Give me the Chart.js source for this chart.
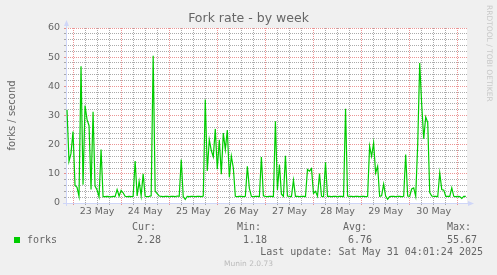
<!DOCTYPE html>
<html>
<head>
<meta charset="utf-8">
<script src="https://cdn.jsdelivr.net/npm/chart.js@4/dist/chart.umd.min.js"></script>
<style>
  html, body { margin: 0; padding: 0; background: #f0f0f0; }
  #wrap { width: 497px; height: 275px; }
</style>
</head>
<body>
<div id="wrap"><canvas id="forks" width="497" height="275"></canvas></div>
<script>
// hourly fork rate, first sample 22 May 21:00, last 31 May 04:00
const forks = [
  32, 14.3, 17,
  // 23 May
  24.5, 6, 5.4, 2.3, 46.9, 6.3, 33.4, 28.6, 26.5, 4.6, 31.3, 5.8,
  4.5, 2.1, 18.3, 2.2, 2.2, 2.3, 2.2, 2.1, 2.3, 2.2, 4.6, 2.4,
  // 24 May
  4.3, 3.5, 2.3, 2.2, 2.3, 2.2, 2.3, 14.4, 2.4, 7.4, 2.5, 10,
  2.3, 2.2, 2.3, 2.5, 50.5, 4, 3.2, 2.4, 2.3, 2.2, 2.3, 2.3,
  // 25 May
  2.2, 2.3, 2.3, 2.2, 2.4, 2.3, 14.9, 2.2, 1.2, 2.3, 2.2, 2.3,
  2.3, 2.2, 2.3, 2.3, 2.2, 2.4, 35.5, 11, 21.7, 18, 15.8, 25.4,
  // 26 May
  11.6, 21.7, 9.9, 24, 18.3, 25, 8.8, 16.1, 12, 2.3, 2.2, 2.3,
  2.3, 2.2, 2.3, 12.6, 5, 2.3, 2.2, 2.3, 2.3, 2.2, 15.8, 2.5,
  // 27 May
  2.3, 2.2, 2.3, 2.3, 2.2, 28, 4.5, 13.2, 3, 2.3, 16.2, 2.4,
  2.3, 2.2, 7.8, 2.3, 2.3, 2.2, 2.3, 2.3, 2.2, 11.5, 10.9, 11.8,
  // 28 May
  3.3, 4, 2.3, 10.1, 2.3, 2.2, 14, 2.3, 2.3, 2.2, 2.3, 2.3,
  2.2, 2.3, 2.3, 2.2, 32.3, 2.4, 2.3, 2.3, 2.2, 2.3, 2.3, 2.2,
  // 29 May
  2.3, 2.3, 2.2, 2.3, 19.5, 16, 20.6, 10.3, 12.6, 2.3, 2.5, 6.5,
  2.4, 1.3, 2.2, 2.3, 2.3, 2.2, 2.3, 2.3, 2.2, 2.3, 16.6, 2.4,
  // 30 May
  2.3, 4.8, 5.2, 2.3, 20, 48, 33.7, 22, 29.5, 27.6, 3.6, 2.4,
  2.3, 2.3, 2.2, 10.3, 4.6, 4.4, 2.3, 2.3, 2.3, 5.2, 2.3, 2.2,
  // 31 May
  2.3, 2.2, 1.6, 2.3, 2.28,
];
const hours = forks.map((_, i) => i - 3); // hours since 23 May 00:00
const dayLabels = ['23 May', '24 May', '25 May', '26 May', '27 May', '28 May', '29 May', '30 May'];
const statNames = ['Cur:', 'Min:', 'Avg:', 'Max:'];
const statValues = ['2.28', '1.18', '6.76', '55.67'];
const lastUpdate = 'Last update: Sat May 31 04:01:24 2025';
const title = 'Fork rate - by week';

// grid every 6 hours / every 2 forks
const xTicks = [];
for (let h = 0; h <= 192; h += 6) xTicks.push(h);
const yTicks = [];
for (let v = 0; v <= 60; v += 2) yTicks.push(v);

// rrdtool / munin colours
const GRID = 'rgba(143,143,143,0.75)';
const MGRID = 'rgba(222,79,79,0.6)';
const AXIS = '#cfd6f8';
const FONT = '#666';
const MONO = '"DejaVu Sans Mono", monospace';

Chart.defaults.font.family = '"DejaVu Sans", sans-serif';
Chart.defaults.color = FONT;

const munin = {
  id: 'munin',
  beforeDraw(chart) {
    const { ctx, chartArea: a } = chart;
    ctx.save();
    ctx.fillStyle = '#fff';
    ctx.fillRect(a.left, a.top, a.right - a.left, a.bottom - a.top);
    ctx.restore();
  },
  beforeDatasetsDraw(chart) {
    const { ctx, chartArea: a } = chart;
    ctx.save();
    ctx.setLineDash([]);
    ctx.strokeStyle = AXIS;
    ctx.fillStyle = AXIS;
    ctx.lineWidth = 1;
    ctx.beginPath();
    ctx.moveTo(a.left + 0.5, a.bottom + 3);
    ctx.lineTo(a.left + 0.5, a.top - 4);
    ctx.moveTo(a.left - 3, a.bottom + 0.5);
    ctx.lineTo(a.right + 2, a.bottom + 0.5);
    ctx.stroke();
    // arrows
    ctx.beginPath();
    ctx.moveTo(a.left - 2, a.top - 2);
    ctx.lineTo(a.left + 3, a.top - 2);
    ctx.lineTo(a.left + 0.5, a.top - 8);
    ctx.closePath();
    ctx.fill();
    ctx.beginPath();
    ctx.moveTo(a.right + 1, a.bottom - 2);
    ctx.lineTo(a.right + 1, a.bottom + 3);
    ctx.lineTo(a.right + 7, a.bottom + 0.5);
    ctx.closePath();
    ctx.fill();
    ctx.restore();
  },
  afterDraw(chart) {
    const ctx = chart.ctx;
    ctx.save();
    ctx.setLineDash([]);
    // title
    ctx.fillStyle = FONT;
    ctx.font = '12.5px "DejaVu Sans"';
    ctx.textAlign = 'center';
    ctx.textBaseline = 'middle';
    ctx.fillText(title, 248.5, 19);
    // legend
    ctx.fillStyle = '#00cc00';
    ctx.fillRect(14, 237, 6, 6);
    ctx.fillStyle = FONT;
    ctx.font = '10px ' + MONO;
    ctx.textAlign = 'left';
    ctx.fillText('forks', 27, 240);
    const nameX = [132, 237, 343, 447];
    const valueX = [161, 267, 372, 477];
    statNames.forEach((s, i) => ctx.fillText(s, nameX[i], 227.5));
    ctx.textAlign = 'right';
    statValues.forEach((s, i) => ctx.fillText(s, valueX[i], 240));
    ctx.fillText(lastUpdate, 483, 252);
    // signature
    ctx.fillStyle = '#bbb';
    ctx.font = '7.5px "DejaVu Sans"';
    ctx.textAlign = 'center';
    ctx.fillText('Munin 2.0.73', 248.5, 264);
    // watermark
    ctx.fillStyle = '#c8c8c8';
    ctx.translate(488.5, 5);
    ctx.rotate(Math.PI / 2);
    ctx.textAlign = 'left';
    ctx.fillText('RRDTOOL / TOBI OETIKER', 0, 0);
    ctx.restore();
  },
};

new Chart(document.getElementById('forks'), {
  type: 'line',
  data: {
    datasets: [{
      data: hours.map((h, i) => ({ x: h, y: forks[i] })),
      borderColor: '#00cc00',
      borderWidth: 1.2,
      pointRadius: 0,
      tension: 0,
      fill: false,
    }],
  },
  options: {
    responsive: false,
    animation: false,
    layout: { padding: { top: 28, right: 30, bottom: 52, left: 0 } },
    scales: {
      x: {
        type: 'linear',
        min: -3.5,
        max: 196.6,
        afterBuildTicks: s => { s.ticks = xTicks.map(v => ({ value: v })); },
        afterFit: s => { s.height = 20; },
        grid: {
          color: c => (c.tick && c.tick.value % 24 === 0 ? MGRID : GRID),
          tickLength: 2,
        },
        border: { display: false, dash: [1, 1] },
        ticks: {
          autoSkip: false,
          maxRotation: 0,
          padding: 1,
          font: { size: 9.5 },
          callback: v => (v % 24 === 12 ? dayLabels[(v - 12) / 24] : ''),
        },
      },
      y: {
        min: 0,
        max: 60,
        afterBuildTicks: s => { s.ticks = yTicks.map(v => ({ value: v })); },
        afterFit: s => { s.width = 66; },
        grid: {
          color: c => (c.tick && c.tick.value % 10 === 0 ? MGRID : GRID),
          tickLength: 2,
        },
        border: { display: false, dash: [1, 1] },
        ticks: {
          autoSkip: false,
          padding: 4,
          font: { size: 9.5 },
          callback: v => (v % 10 === 0 ? v : ''),
        },
        title: {
          display: true,
          text: 'forks / second',
          font: { size: 10 },
          padding: { top: 6, bottom: 0 },
        },
      },
    },
    plugins: {
      legend: { display: false },
      tooltip: { enabled: false },
    },
  },
  plugins: [munin],
});
</script>
</body>
</html>
